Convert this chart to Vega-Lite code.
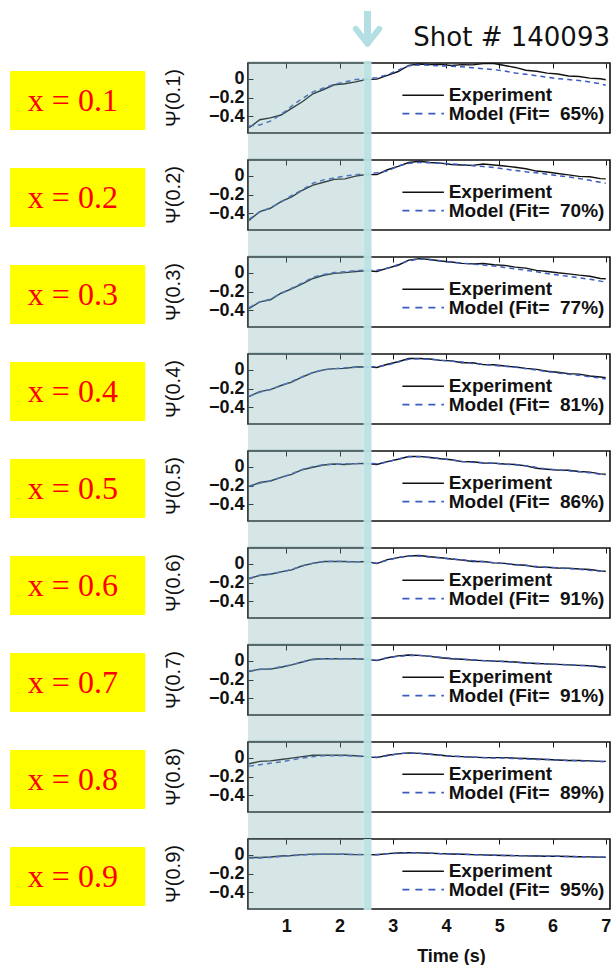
{
"$schema":"https://vega.github.io/schema/vega-lite/v6.json",
"padding":{"left":9,"top":6,"right":0,"bottom":0},
"background":"white",
"config":{"font":"Liberation Sans","view":{"stroke":"#111","strokeWidth":1.6}},
"data":{"values":[
{"p":"Ψ(0.1)","lab":"x = 0.1","fit":"Model (Fit=\u00a0 65%)"},
{"p":"Ψ(0.2)","lab":"x = 0.2","fit":"Model (Fit=\u00a0 70%)"},
{"p":"Ψ(0.3)","lab":"x = 0.3","fit":"Model (Fit=\u00a0 77%)"},
{"p":"Ψ(0.4)","lab":"x = 0.4","fit":"Model (Fit=\u00a0 81%)"},
{"p":"Ψ(0.5)","lab":"x = 0.5","fit":"Model (Fit=\u00a0 86%)"},
{"p":"Ψ(0.6)","lab":"x = 0.6","fit":"Model (Fit=\u00a0 91%)"},
{"p":"Ψ(0.7)","lab":"x = 0.7","fit":"Model (Fit=\u00a0 91%)"},
{"p":"Ψ(0.8)","lab":"x = 0.8","fit":"Model (Fit=\u00a0 89%)"},
{"p":"Ψ(0.9)","lab":"x = 0.9","fit":"Model (Fit=\u00a0 95%)"},
{"p":"Ψ(0.1)","t":0.3,"e":-0.52,"m":-0.5},{"p":"Ψ(0.1)","t":0.5,"e":-0.435,"m":-0.49},{"p":"Ψ(0.1)","t":0.7,"e":-0.415,"m":-0.45},{"p":"Ψ(0.1)","t":0.9,"e":-0.385,"m":-0.38},{"p":"Ψ(0.1)","t":1.1,"e":-0.315,"m":-0.29},{"p":"Ψ(0.1)","t":1.3,"e":-0.245,"m":-0.21},{"p":"Ψ(0.1)","t":1.5,"e":-0.16,"m":-0.14},{"p":"Ψ(0.1)","t":1.7,"e":-0.115,"m":-0.1},{"p":"Ψ(0.1)","t":1.9,"e":-0.065,"m":-0.06},{"p":"Ψ(0.1)","t":2.1,"e":-0.055,"m":-0.035},{"p":"Ψ(0.1)","t":2.3,"e":-0.035,"m":-0.01},{"p":"Ψ(0.1)","t":2.5,"e":-0.01,"m":0.0},{"p":"Ψ(0.1)","t":2.7,"e":-0.005,"m":0.01},{"p":"Ψ(0.1)","t":2.9,"e":0.035,"m":0.04},{"p":"Ψ(0.1)","t":3.1,"e":0.075,"m":0.09},{"p":"Ψ(0.1)","t":3.3,"e":0.14,"m":0.135},{"p":"Ψ(0.1)","t":3.5,"e":0.155,"m":0.145},{"p":"Ψ(0.1)","t":3.7,"e":0.148,"m":0.14},{"p":"Ψ(0.1)","t":3.9,"e":0.15,"m":0.135},{"p":"Ψ(0.1)","t":4.1,"e":0.138,"m":0.13},{"p":"Ψ(0.1)","t":4.3,"e":0.148,"m":0.125},{"p":"Ψ(0.1)","t":4.5,"e":0.145,"m":0.115},{"p":"Ψ(0.1)","t":4.7,"e":0.158,"m":0.105},{"p":"Ψ(0.1)","t":4.9,"e":0.16,"m":0.095},{"p":"Ψ(0.1)","t":5.1,"e":0.138,"m":0.08},{"p":"Ψ(0.1)","t":5.3,"e":0.118,"m":0.06},{"p":"Ψ(0.1)","t":5.5,"e":0.088,"m":0.045},{"p":"Ψ(0.1)","t":5.7,"e":0.078,"m":0.03},{"p":"Ψ(0.1)","t":5.9,"e":0.058,"m":0.015},{"p":"Ψ(0.1)","t":6.1,"e":0.048,"m":0.0},{"p":"Ψ(0.1)","t":6.3,"e":0.028,"m":-0.01},{"p":"Ψ(0.1)","t":6.5,"e":0.022,"m":-0.02},{"p":"Ψ(0.1)","t":6.7,"e":0.005,"m":-0.035},{"p":"Ψ(0.1)","t":6.9,"e":-0.002,"m":-0.055},{"p":"Ψ(0.1)","t":7.0,"e":-0.012,"m":-0.07},
{"p":"Ψ(0.2)","t":0.3,"e":-0.475,"m":-0.46},{"p":"Ψ(0.2)","t":0.5,"e":-0.38,"m":-0.385},{"p":"Ψ(0.2)","t":0.7,"e":-0.345,"m":-0.34},{"p":"Ψ(0.2)","t":0.9,"e":-0.275,"m":-0.28},{"p":"Ψ(0.2)","t":1.1,"e":-0.225,"m":-0.21},{"p":"Ψ(0.2)","t":1.3,"e":-0.155,"m":-0.15},{"p":"Ψ(0.2)","t":1.5,"e":-0.1,"m":-0.08},{"p":"Ψ(0.2)","t":1.7,"e":-0.07,"m":-0.045},{"p":"Ψ(0.2)","t":1.9,"e":-0.04,"m":-0.025},{"p":"Ψ(0.2)","t":2.1,"e":-0.035,"m":-0.005},{"p":"Ψ(0.2)","t":2.3,"e":-0.005,"m":0.01},{"p":"Ψ(0.2)","t":2.5,"e":0.012,"m":0.02},{"p":"Ψ(0.2)","t":2.7,"e":0.01,"m":0.03},{"p":"Ψ(0.2)","t":2.9,"e":0.062,"m":0.05},{"p":"Ψ(0.2)","t":3.1,"e":0.098,"m":0.1},{"p":"Ψ(0.2)","t":3.3,"e":0.138,"m":0.13},{"p":"Ψ(0.2)","t":3.5,"e":0.152,"m":0.14},{"p":"Ψ(0.2)","t":3.7,"e":0.138,"m":0.135},{"p":"Ψ(0.2)","t":3.9,"e":0.132,"m":0.13},{"p":"Ψ(0.2)","t":4.1,"e":0.118,"m":0.125},{"p":"Ψ(0.2)","t":4.3,"e":0.112,"m":0.115},{"p":"Ψ(0.2)","t":4.5,"e":0.108,"m":0.105},{"p":"Ψ(0.2)","t":4.7,"e":0.122,"m":0.095},{"p":"Ψ(0.2)","t":4.9,"e":0.112,"m":0.085},{"p":"Ψ(0.2)","t":5.1,"e":0.102,"m":0.07},{"p":"Ψ(0.2)","t":5.3,"e":0.088,"m":0.055},{"p":"Ψ(0.2)","t":5.5,"e":0.072,"m":0.04},{"p":"Ψ(0.2)","t":5.7,"e":0.048,"m":0.03},{"p":"Ψ(0.2)","t":5.9,"e":0.038,"m":0.015},{"p":"Ψ(0.2)","t":6.1,"e":0.022,"m":0.0},{"p":"Ψ(0.2)","t":6.3,"e":0.008,"m":-0.015},{"p":"Ψ(0.2)","t":6.5,"e":-0.008,"m":-0.03},{"p":"Ψ(0.2)","t":6.7,"e":-0.012,"m":-0.05},{"p":"Ψ(0.2)","t":6.9,"e":-0.032,"m":-0.07},{"p":"Ψ(0.2)","t":7.0,"e":-0.035,"m":-0.08},
{"p":"Ψ(0.3)","t":0.3,"e":-0.38,"m":-0.37},{"p":"Ψ(0.3)","t":0.5,"e":-0.31,"m":-0.31},{"p":"Ψ(0.3)","t":0.7,"e":-0.288,"m":-0.28},{"p":"Ψ(0.3)","t":0.9,"e":-0.218,"m":-0.22},{"p":"Ψ(0.3)","t":1.1,"e":-0.172,"m":-0.165},{"p":"Ψ(0.3)","t":1.3,"e":-0.118,"m":-0.11},{"p":"Ψ(0.3)","t":1.5,"e":-0.062,"m":-0.05},{"p":"Ψ(0.3)","t":1.7,"e":-0.028,"m":-0.02},{"p":"Ψ(0.3)","t":1.9,"e":-0.008,"m":0.0},{"p":"Ψ(0.3)","t":2.1,"e":0.0,"m":0.01},{"p":"Ψ(0.3)","t":2.3,"e":0.012,"m":0.02},{"p":"Ψ(0.3)","t":2.5,"e":0.02,"m":0.025},{"p":"Ψ(0.3)","t":2.7,"e":0.012,"m":0.025},{"p":"Ψ(0.3)","t":2.9,"e":0.048,"m":0.045},{"p":"Ψ(0.3)","t":3.1,"e":0.078,"m":0.085},{"p":"Ψ(0.3)","t":3.3,"e":0.132,"m":0.125},{"p":"Ψ(0.3)","t":3.5,"e":0.148,"m":0.145},{"p":"Ψ(0.3)","t":3.7,"e":0.138,"m":0.135},{"p":"Ψ(0.3)","t":3.9,"e":0.122,"m":0.125},{"p":"Ψ(0.3)","t":4.1,"e":0.112,"m":0.11},{"p":"Ψ(0.3)","t":4.3,"e":0.098,"m":0.1},{"p":"Ψ(0.3)","t":4.5,"e":0.092,"m":0.09},{"p":"Ψ(0.3)","t":4.7,"e":0.097,"m":0.08},{"p":"Ψ(0.3)","t":4.9,"e":0.083,"m":0.07},{"p":"Ψ(0.3)","t":5.1,"e":0.077,"m":0.055},{"p":"Ψ(0.3)","t":5.3,"e":0.058,"m":0.04},{"p":"Ψ(0.3)","t":5.5,"e":0.047,"m":0.025},{"p":"Ψ(0.3)","t":5.7,"e":0.023,"m":0.01},{"p":"Ψ(0.3)","t":5.9,"e":0.012,"m":-0.01},{"p":"Ψ(0.3)","t":6.1,"e":-0.002,"m":-0.025},{"p":"Ψ(0.3)","t":6.3,"e":-0.013,"m":-0.04},{"p":"Ψ(0.3)","t":6.5,"e":-0.027,"m":-0.055},{"p":"Ψ(0.3)","t":6.7,"e":-0.038,"m":-0.07},{"p":"Ψ(0.3)","t":6.9,"e":-0.062,"m":-0.09},{"p":"Ψ(0.3)","t":7.0,"e":-0.065,"m":-0.1},
{"p":"Ψ(0.4)","t":0.3,"e":-0.285,"m":-0.28},{"p":"Ψ(0.4)","t":0.5,"e":-0.232,"m":-0.24},{"p":"Ψ(0.4)","t":0.7,"e":-0.212,"m":-0.21},{"p":"Ψ(0.4)","t":0.9,"e":-0.168,"m":-0.17},{"p":"Ψ(0.4)","t":1.1,"e":-0.132,"m":-0.125},{"p":"Ψ(0.4)","t":1.3,"e":-0.078,"m":-0.075},{"p":"Ψ(0.4)","t":1.5,"e":-0.032,"m":-0.03},{"p":"Ψ(0.4)","t":1.7,"e":-0.003,"m":0.0},{"p":"Ψ(0.4)","t":1.9,"e":0.01,"m":0.01},{"p":"Ψ(0.4)","t":2.1,"e":0.013,"m":0.02},{"p":"Ψ(0.4)","t":2.3,"e":0.027,"m":0.025},{"p":"Ψ(0.4)","t":2.5,"e":0.03,"m":0.03},{"p":"Ψ(0.4)","t":2.7,"e":0.022,"m":0.03},{"p":"Ψ(0.4)","t":2.9,"e":0.057,"m":0.05},{"p":"Ψ(0.4)","t":3.1,"e":0.083,"m":0.08},{"p":"Ψ(0.4)","t":3.3,"e":0.117,"m":0.11},{"p":"Ψ(0.4)","t":3.5,"e":0.118,"m":0.115},{"p":"Ψ(0.4)","t":3.7,"e":0.112,"m":0.11},{"p":"Ψ(0.4)","t":3.9,"e":0.098,"m":0.1},{"p":"Ψ(0.4)","t":4.1,"e":0.092,"m":0.09},{"p":"Ψ(0.4)","t":4.3,"e":0.073,"m":0.08},{"p":"Ψ(0.4)","t":4.5,"e":0.072,"m":0.065},{"p":"Ψ(0.4)","t":4.7,"e":0.053,"m":0.055},{"p":"Ψ(0.4)","t":4.9,"e":0.052,"m":0.045},{"p":"Ψ(0.4)","t":5.1,"e":0.038,"m":0.035},{"p":"Ψ(0.4)","t":5.3,"e":0.027,"m":0.025},{"p":"Ψ(0.4)","t":5.5,"e":0.013,"m":0.01},{"p":"Ψ(0.4)","t":5.7,"e":0.002,"m":-0.005},{"p":"Ψ(0.4)","t":5.9,"e":-0.017,"m":-0.02},{"p":"Ψ(0.4)","t":6.1,"e":-0.028,"m":-0.035},{"p":"Ψ(0.4)","t":6.3,"e":-0.042,"m":-0.05},{"p":"Ψ(0.4)","t":6.5,"e":-0.048,"m":-0.06},{"p":"Ψ(0.4)","t":6.7,"e":-0.067,"m":-0.075},{"p":"Ψ(0.4)","t":6.9,"e":-0.078,"m":-0.09},{"p":"Ψ(0.4)","t":7.0,"e":-0.085,"m":-0.1},
{"p":"Ψ(0.5)","t":0.3,"e":-0.21,"m":-0.205},{"p":"Ψ(0.5)","t":0.5,"e":-0.168,"m":-0.175},{"p":"Ψ(0.5)","t":0.7,"e":-0.152,"m":-0.15},{"p":"Ψ(0.5)","t":0.9,"e":-0.113,"m":-0.115},{"p":"Ψ(0.5)","t":1.1,"e":-0.082,"m":-0.075},{"p":"Ψ(0.5)","t":1.3,"e":-0.033,"m":-0.03},{"p":"Ψ(0.5)","t":1.5,"e":-0.007,"m":0.0},{"p":"Ψ(0.5)","t":1.7,"e":0.017,"m":0.02},{"p":"Ψ(0.5)","t":1.9,"e":0.028,"m":0.025},{"p":"Ψ(0.5)","t":2.1,"e":0.023,"m":0.03},{"p":"Ψ(0.5)","t":2.3,"e":0.032,"m":0.03},{"p":"Ψ(0.5)","t":2.5,"e":0.033,"m":0.035},{"p":"Ψ(0.5)","t":2.7,"e":0.023,"m":0.03},{"p":"Ψ(0.5)","t":2.9,"e":0.052,"m":0.05},{"p":"Ψ(0.5)","t":3.1,"e":0.078,"m":0.08},{"p":"Ψ(0.5)","t":3.3,"e":0.107,"m":0.105},{"p":"Ψ(0.5)","t":3.5,"e":0.108,"m":0.105},{"p":"Ψ(0.5)","t":3.7,"e":0.097,"m":0.095},{"p":"Ψ(0.5)","t":3.9,"e":0.083,"m":0.085},{"p":"Ψ(0.5)","t":4.1,"e":0.072,"m":0.07},{"p":"Ψ(0.5)","t":4.3,"e":0.053,"m":0.055},{"p":"Ψ(0.5)","t":4.5,"e":0.052,"m":0.045},{"p":"Ψ(0.5)","t":4.7,"e":0.038,"m":0.04},{"p":"Ψ(0.5)","t":4.9,"e":0.037,"m":0.035},{"p":"Ψ(0.5)","t":5.1,"e":0.028,"m":0.025},{"p":"Ψ(0.5)","t":5.3,"e":0.022,"m":0.02},{"p":"Ψ(0.5)","t":5.5,"e":0.008,"m":0.01},{"p":"Ψ(0.5)","t":5.7,"e":-0.017,"m":-0.01},{"p":"Ψ(0.5)","t":5.9,"e":-0.028,"m":-0.025},{"p":"Ψ(0.5)","t":6.1,"e":-0.037,"m":-0.035},{"p":"Ψ(0.5)","t":6.3,"e":-0.038,"m":-0.045},{"p":"Ψ(0.5)","t":6.5,"e":-0.052,"m":-0.055},{"p":"Ψ(0.5)","t":6.7,"e":-0.058,"m":-0.065},{"p":"Ψ(0.5)","t":6.9,"e":-0.077,"m":-0.08},{"p":"Ψ(0.5)","t":7.0,"e":-0.08,"m":-0.085},
{"p":"Ψ(0.6)","t":0.3,"e":-0.16,"m":-0.155},{"p":"Ψ(0.6)","t":0.5,"e":-0.123,"m":-0.125},{"p":"Ψ(0.6)","t":0.7,"e":-0.112,"m":-0.11},{"p":"Ψ(0.6)","t":0.9,"e":-0.088,"m":-0.09},{"p":"Ψ(0.6)","t":1.1,"e":-0.067,"m":-0.06},{"p":"Ψ(0.6)","t":1.3,"e":-0.023,"m":-0.025},{"p":"Ψ(0.6)","t":1.5,"e":0.003,"m":0.005},{"p":"Ψ(0.6)","t":1.7,"e":0.022,"m":0.02},{"p":"Ψ(0.6)","t":1.9,"e":0.023,"m":0.025},{"p":"Ψ(0.6)","t":2.1,"e":0.022,"m":0.02},{"p":"Ψ(0.6)","t":2.3,"e":0.018,"m":0.02},{"p":"Ψ(0.6)","t":2.5,"e":0.022,"m":0.02},{"p":"Ψ(0.6)","t":2.7,"e":0.0,"m":0.005},{"p":"Ψ(0.6)","t":2.9,"e":0.042,"m":0.035},{"p":"Ψ(0.6)","t":3.1,"e":0.063,"m":0.065},{"p":"Ψ(0.6)","t":3.3,"e":0.082,"m":0.08},{"p":"Ψ(0.6)","t":3.5,"e":0.085,"m":0.08},{"p":"Ψ(0.6)","t":3.7,"e":0.073,"m":0.07},{"p":"Ψ(0.6)","t":3.9,"e":0.062,"m":0.06},{"p":"Ψ(0.6)","t":4.1,"e":0.048,"m":0.05},{"p":"Ψ(0.6)","t":4.3,"e":0.037,"m":0.04},{"p":"Ψ(0.6)","t":4.5,"e":0.023,"m":0.03},{"p":"Ψ(0.6)","t":4.7,"e":0.022,"m":0.02},{"p":"Ψ(0.6)","t":4.9,"e":0.008,"m":0.01},{"p":"Ψ(0.6)","t":5.1,"e":0.002,"m":0.0},{"p":"Ψ(0.6)","t":5.3,"e":-0.012,"m":-0.01},{"p":"Ψ(0.6)","t":5.5,"e":-0.018,"m":-0.02},{"p":"Ψ(0.6)","t":5.7,"e":-0.037,"m":-0.03},{"p":"Ψ(0.6)","t":5.9,"e":-0.038,"m":-0.04},{"p":"Ψ(0.6)","t":6.1,"e":-0.047,"m":-0.045},{"p":"Ψ(0.6)","t":6.3,"e":-0.048,"m":-0.055},{"p":"Ψ(0.6)","t":6.5,"e":-0.057,"m":-0.06},{"p":"Ψ(0.6)","t":6.7,"e":-0.063,"m":-0.07},{"p":"Ψ(0.6)","t":6.9,"e":-0.077,"m":-0.08},{"p":"Ψ(0.6)","t":7.0,"e":-0.08,"m":-0.085},
{"p":"Ψ(0.7)","t":0.3,"e":-0.115,"m":-0.11},{"p":"Ψ(0.7)","t":0.5,"e":-0.09,"m":-0.095},{"p":"Ψ(0.7)","t":0.7,"e":-0.09,"m":-0.085},{"p":"Ψ(0.7)","t":0.9,"e":-0.07,"m":-0.065},{"p":"Ψ(0.7)","t":1.1,"e":-0.045,"m":-0.045},{"p":"Ψ(0.7)","t":1.3,"e":-0.015,"m":-0.015},{"p":"Ψ(0.7)","t":1.5,"e":0.015,"m":0.01},{"p":"Ψ(0.7)","t":1.7,"e":0.02,"m":0.02},{"p":"Ψ(0.7)","t":1.9,"e":0.02,"m":0.02},{"p":"Ψ(0.7)","t":2.1,"e":0.018,"m":0.02},{"p":"Ψ(0.7)","t":2.3,"e":0.02,"m":0.02},{"p":"Ψ(0.7)","t":2.5,"e":0.015,"m":0.015},{"p":"Ψ(0.7)","t":2.7,"e":0.0,"m":0.005},{"p":"Ψ(0.7)","t":2.9,"e":0.03,"m":0.03},{"p":"Ψ(0.7)","t":3.1,"e":0.05,"m":0.045},{"p":"Ψ(0.7)","t":3.3,"e":0.06,"m":0.055},{"p":"Ψ(0.7)","t":3.5,"e":0.055,"m":0.055},{"p":"Ψ(0.7)","t":3.7,"e":0.045,"m":0.045},{"p":"Ψ(0.7)","t":3.9,"e":0.03,"m":0.035},{"p":"Ψ(0.7)","t":4.1,"e":0.02,"m":0.025},{"p":"Ψ(0.7)","t":4.3,"e":0.015,"m":0.015},{"p":"Ψ(0.7)","t":4.5,"e":0.005,"m":0.01},{"p":"Ψ(0.7)","t":4.7,"e":0.0,"m":0.0},{"p":"Ψ(0.7)","t":4.9,"e":-0.005,"m":-0.005},{"p":"Ψ(0.7)","t":5.1,"e":-0.01,"m":-0.01},{"p":"Ψ(0.7)","t":5.3,"e":-0.015,"m":-0.015},{"p":"Ψ(0.7)","t":5.5,"e":-0.025,"m":-0.025},{"p":"Ψ(0.7)","t":5.7,"e":-0.03,"m":-0.03},{"p":"Ψ(0.7)","t":5.9,"e":-0.035,"m":-0.035},{"p":"Ψ(0.7)","t":6.1,"e":-0.04,"m":-0.04},{"p":"Ψ(0.7)","t":6.3,"e":-0.045,"m":-0.045},{"p":"Ψ(0.7)","t":6.5,"e":-0.05,"m":-0.05},{"p":"Ψ(0.7)","t":6.7,"e":-0.055,"m":-0.055},{"p":"Ψ(0.7)","t":6.9,"e":-0.065,"m":-0.07},{"p":"Ψ(0.7)","t":7.0,"e":-0.07,"m":-0.075},
{"p":"Ψ(0.8)","t":0.3,"e":-0.065,"m":-0.09},{"p":"Ψ(0.8)","t":0.5,"e":-0.04,"m":-0.075},{"p":"Ψ(0.8)","t":0.7,"e":-0.035,"m":-0.06},{"p":"Ψ(0.8)","t":0.9,"e":-0.02,"m":-0.045},{"p":"Ψ(0.8)","t":1.1,"e":-0.005,"m":-0.025},{"p":"Ψ(0.8)","t":1.3,"e":0.01,"m":-0.005},{"p":"Ψ(0.8)","t":1.5,"e":0.025,"m":0.01},{"p":"Ψ(0.8)","t":1.7,"e":0.025,"m":0.02},{"p":"Ψ(0.8)","t":1.9,"e":0.025,"m":0.02},{"p":"Ψ(0.8)","t":2.1,"e":0.025,"m":0.02},{"p":"Ψ(0.8)","t":2.3,"e":0.02,"m":0.015},{"p":"Ψ(0.8)","t":2.5,"e":0.01,"m":0.01},{"p":"Ψ(0.8)","t":2.7,"e":0.0,"m":0.005},{"p":"Ψ(0.8)","t":2.9,"e":0.025,"m":0.02},{"p":"Ψ(0.8)","t":3.1,"e":0.04,"m":0.04},{"p":"Ψ(0.8)","t":3.3,"e":0.05,"m":0.05},{"p":"Ψ(0.8)","t":3.5,"e":0.045,"m":0.045},{"p":"Ψ(0.8)","t":3.7,"e":0.035,"m":0.035},{"p":"Ψ(0.8)","t":3.9,"e":0.025,"m":0.025},{"p":"Ψ(0.8)","t":4.1,"e":0.015,"m":0.015},{"p":"Ψ(0.8)","t":4.3,"e":0.01,"m":0.01},{"p":"Ψ(0.8)","t":4.5,"e":0.005,"m":0.005},{"p":"Ψ(0.8)","t":4.7,"e":0.0,"m":0.0},{"p":"Ψ(0.8)","t":4.9,"e":0.0,"m":-0.005},{"p":"Ψ(0.8)","t":5.1,"e":0.0,"m":-0.005},{"p":"Ψ(0.8)","t":5.3,"e":-0.005,"m":-0.01},{"p":"Ψ(0.8)","t":5.5,"e":-0.01,"m":-0.015},{"p":"Ψ(0.8)","t":5.7,"e":-0.015,"m":-0.02},{"p":"Ψ(0.8)","t":5.9,"e":-0.02,"m":-0.02},{"p":"Ψ(0.8)","t":6.1,"e":-0.025,"m":-0.025},{"p":"Ψ(0.8)","t":6.3,"e":-0.03,"m":-0.03},{"p":"Ψ(0.8)","t":6.5,"e":-0.03,"m":-0.035},{"p":"Ψ(0.8)","t":6.7,"e":-0.035,"m":-0.035},{"p":"Ψ(0.8)","t":6.9,"e":-0.04,"m":-0.04},{"p":"Ψ(0.8)","t":7.0,"e":-0.04,"m":-0.045},
{"p":"Ψ(0.9)","t":0.3,"e":-0.03,"m":-0.035},{"p":"Ψ(0.9)","t":0.5,"e":-0.03,"m":-0.035},{"p":"Ψ(0.9)","t":0.7,"e":-0.025,"m":-0.03},{"p":"Ψ(0.9)","t":0.9,"e":-0.015,"m":-0.02},{"p":"Ψ(0.9)","t":1.1,"e":-0.01,"m":-0.01},{"p":"Ψ(0.9)","t":1.3,"e":0.0,"m":-0.005},{"p":"Ψ(0.9)","t":1.5,"e":0.005,"m":0.0},{"p":"Ψ(0.9)","t":1.7,"e":0.005,"m":0.005},{"p":"Ψ(0.9)","t":1.9,"e":0.005,"m":0.005},{"p":"Ψ(0.9)","t":2.1,"e":0.003,"m":0.003},{"p":"Ψ(0.9)","t":2.3,"e":0.0,"m":0.0},{"p":"Ψ(0.9)","t":2.5,"e":0.0,"m":0.0},{"p":"Ψ(0.9)","t":2.7,"e":-0.002,"m":0.0},{"p":"Ψ(0.9)","t":2.9,"e":0.01,"m":0.008},{"p":"Ψ(0.9)","t":3.1,"e":0.017,"m":0.015},{"p":"Ψ(0.9)","t":3.3,"e":0.02,"m":0.02},{"p":"Ψ(0.9)","t":3.5,"e":0.018,"m":0.018},{"p":"Ψ(0.9)","t":3.7,"e":0.015,"m":0.015},{"p":"Ψ(0.9)","t":3.9,"e":0.01,"m":0.01},{"p":"Ψ(0.9)","t":4.1,"e":0.007,"m":0.007},{"p":"Ψ(0.9)","t":4.3,"e":0.004,"m":0.004},{"p":"Ψ(0.9)","t":4.5,"e":0.0,"m":0.0},{"p":"Ψ(0.9)","t":4.7,"e":-0.003,"m":-0.003},{"p":"Ψ(0.9)","t":4.9,"e":-0.006,"m":-0.006},{"p":"Ψ(0.9)","t":5.1,"e":-0.009,"m":-0.009},{"p":"Ψ(0.9)","t":5.3,"e":-0.011,"m":-0.011},{"p":"Ψ(0.9)","t":5.5,"e":-0.013,"m":-0.013},{"p":"Ψ(0.9)","t":5.7,"e":-0.015,"m":-0.015},{"p":"Ψ(0.9)","t":5.9,"e":-0.017,"m":-0.017},{"p":"Ψ(0.9)","t":6.1,"e":-0.018,"m":-0.018},{"p":"Ψ(0.9)","t":6.3,"e":-0.02,"m":-0.02},{"p":"Ψ(0.9)","t":6.5,"e":-0.022,"m":-0.022},{"p":"Ψ(0.9)","t":6.7,"e":-0.024,"m":-0.024},{"p":"Ψ(0.9)","t":6.9,"e":-0.027,"m":-0.027},{"p":"Ψ(0.9)","t":7.0,"e":-0.028,"m":-0.028}
]},
"facet":{"row":{"field":"p","type":"nominal","header":{"title":null,"labelAngle":-90,"labelFontSize":20,"labelFont":"Liberation Sans","labelColor":"#111","labelPadding":14}}},
"spacing":27,
"bounds":"flush",
"spec":{
"width":362,"height":70,
"layer":[
{"transform":[{"filter":"isValid(datum.t)"}],
"mark":{"type":"line","color":"#111","strokeWidth":1.4},
"encoding":{
"x":{"field":"t","type":"quantitative","scale":{"domain":[0.28,7.08],"nice":false,"zero":false},
"axis":{"values":[1,2,3,4,5,6,7],"format":"d","title":"Time (s)","titleFontSize":18,"titleFontWeight":"bold","titleColor":"#111","titlePadding":12,"titleX":203,"labelFontSize":18,"labelFontWeight":"bold","labelColor":"#111","labelPadding":8,"labelFlush":false,"ticks":false,"domain":false,"grid":true,"gridDash":[5,1000],"gridColor":"#111","gridOpacity":1,"gridWidth":1}},
"y":{"field":"e","type":"quantitative","scale":{"domain":[-0.575,0.165],"nice":false,"zero":false},
"axis":{"tickCount":3,"labelExpr":"datum.value == 0 ? '0' : '−' + format(abs(datum.value), '.1f')","title":null,"labelFontSize":18,"labelFontWeight":"bold","labelColor":"#111","labelPadding":4,"labelOverlap":false,"labelFlush":false,"labelBound":false,"ticks":false,"domain":false,"grid":true,"gridDash":[5,1000],"gridColor":"#111","gridOpacity":1,"gridWidth":1}}}},
{"transform":[{"filter":"isValid(datum.t)"}],
"mark":{"type":"line","color":"#3a5bbf","strokeWidth":1.5,"strokeDash":[5,4]},
"encoding":{"x":{"field":"t","type":"quantitative"},"y":{"field":"m","type":"quantitative"}}},
{"transform":[{"filter":"isValid(datum.lab)"}],
"mark":{"type":"rect","color":"#ffff00"},
"encoding":{"x":{"datum":-4.19},"x2":{"datum":-1.65},"y":{"datum":0.08},"y2":{"datum":-0.543}}},
{"transform":[{"filter":"isValid(datum.lab)"}],
"mark":{"type":"text","color":"#ff0000","font":"Liberation Serif","fontSize":32,"align":"center","baseline":"middle"},
"encoding":{"x":{"datum":-3.01},"y":{"datum":-0.235},"text":{"field":"lab"}}},
{"transform":[{"filter":"isValid(datum.fit)"}],
"mark":{"type":"rule","color":"#111","strokeWidth":1.5},
"encoding":{"x":{"datum":3.18},"x2":{"datum":3.96},"y":{"datum":-0.175}}},
{"transform":[{"filter":"isValid(datum.fit)"}],
"mark":{"type":"rule","color":"#3a5bbf","strokeWidth":1.6,"strokeDash":[7,6]},
"encoding":{"x":{"datum":3.18},"x2":{"datum":3.96},"y":{"datum":-0.37}}},
{"transform":[{"filter":"isValid(datum.fit)"}],
"mark":{"type":"text","text":"Experiment","align":"left","baseline":"alphabetic","font":"Liberation Sans","fontSize":19,"fontWeight":"bold","color":"#111"},
"encoding":{"x":{"datum":4.05},"y":{"datum":-0.24}}},
{"transform":[{"filter":"isValid(datum.fit)"}],
"mark":{"type":"text","align":"left","baseline":"alphabetic","font":"Liberation Sans","fontSize":19,"fontWeight":"bold","color":"#111"},
"encoding":{"x":{"datum":4.05},"y":{"datum":-0.435},"text":{"field":"fit"}}},
{"transform":[{"filter":"isValid(datum.fit) && datum.p != 'Ψ(0.9)'"}],
"mark":{"type":"rect","color":"#7fb0b3","opacity":0.32},
"encoding":{"x":{"datum":0.28},"x2":{"datum":2.45},"y":{"datum":0.185},"y2":{"datum":-0.86}}},
{"transform":[{"filter":"isValid(datum.fit) && datum.p == 'Ψ(0.9)'"}],
"mark":{"type":"rect","color":"#7fb0b3","opacity":0.32},
"encoding":{"x":{"datum":0.28},"x2":{"datum":2.45},"y":{"datum":0.165},"y2":{"datum":-0.585}}},
{"transform":[{"filter":"isValid(datum.fit) && datum.p != 'Ψ(0.9)'"}],
"mark":{"type":"rect","color":"#b9e1e4","opacity":0.95},
"encoding":{"x":{"datum":2.45},"x2":{"datum":2.6},"y":{"datum":0.185},"y2":{"datum":-0.86}}},
{"transform":[{"filter":"isValid(datum.fit) && datum.p == 'Ψ(0.9)'"}],
"mark":{"type":"rect","color":"#b9e1e4","opacity":0.95},
"encoding":{"x":{"datum":2.45},"x2":{"datum":2.6},"y":{"datum":0.165},"y2":{"datum":-0.585}}},
{"transform":[{"filter":"isValid(datum.fit) && datum.p == 'Ψ(0.1)'"}],
"mark":{"type":"rule","color":"#b3dfe3","strokeWidth":7,"strokeCap":"butt"},
"encoding":{"x":{"datum":2.525},"y":{"datum":0.715},"y2":{"datum":0.39}}},
{"transform":[{"filter":"isValid(datum.fit) && datum.p == 'Ψ(0.1)'"}],
"mark":{"type":"rule","color":"#b3dfe3","strokeWidth":6,"strokeCap":"round"},
"encoding":{"x":{"datum":2.305},"x2":{"datum":2.525},"y":{"datum":0.525},"y2":{"datum":0.37}}},
{"transform":[{"filter":"isValid(datum.fit) && datum.p == 'Ψ(0.1)'"}],
"mark":{"type":"rule","color":"#b3dfe3","strokeWidth":6,"strokeCap":"round"},
"encoding":{"x":{"datum":2.745},"x2":{"datum":2.525},"y":{"datum":0.525},"y2":{"datum":0.37}}},
{"transform":[{"filter":"isValid(datum.fit) && datum.p == 'Ψ(0.1)'"}],
"mark":{"type":"text","text":"Shot # 140093","align":"right","baseline":"alphabetic","font":"DejaVu Sans","fontSize":26,"color":"#111"},
"encoding":{"x":{"datum":7.08},"y":{"datum":0.345}}}
]}
}
